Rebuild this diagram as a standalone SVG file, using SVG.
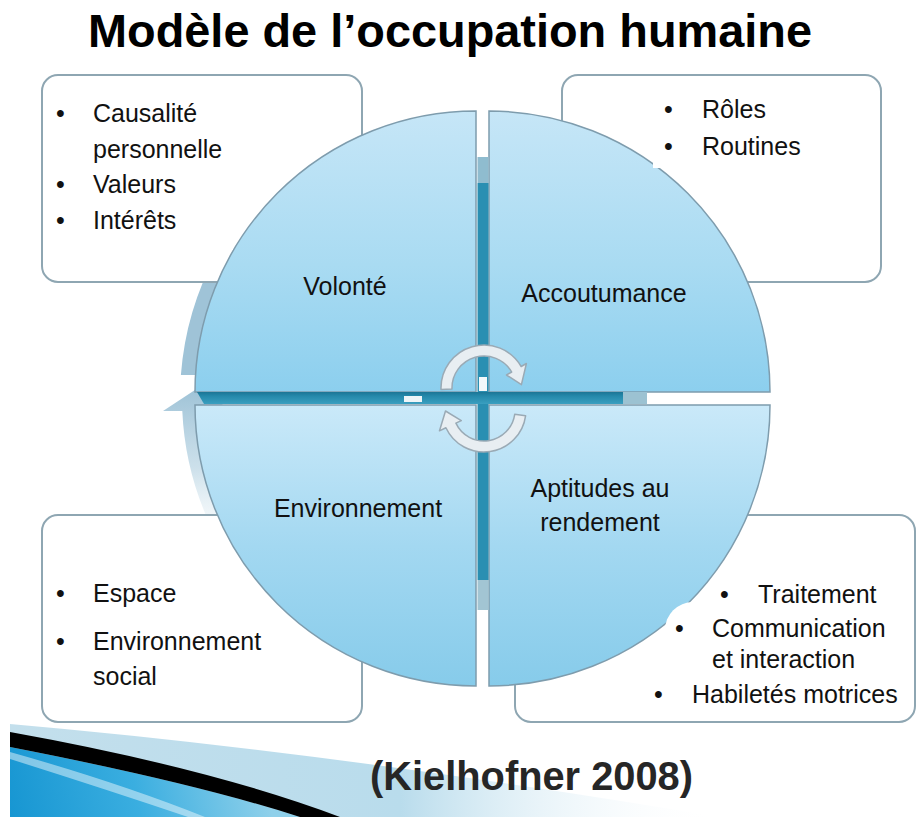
<svg xmlns="http://www.w3.org/2000/svg" width="919" height="817" viewBox="0 0 919 817">
  <style>
    .box { fill: #ffffff; stroke: #8ea6b2; stroke-width: 2; }
    .quad { stroke: #7e9cad; stroke-width: 1.5; }
    .lbl { font-family: "Liberation Sans", Arial, sans-serif; font-size: 25px; fill: #111111; }
    .mid { text-anchor: middle; }
    .turn { fill: #e8eef2; stroke: #9aaab5; stroke-width: 1.5; stroke-linejoin: round; }
    .ring { fill: #9fc3d7; }
  </style>
  <defs>
    <linearGradient id="gTop" x1="0" y1="110" x2="0" y2="392" gradientUnits="userSpaceOnUse">
      <stop offset="0" stop-color="#c6e6f7"/>
      <stop offset="0.55" stop-color="#a9dbf2"/>
      <stop offset="1" stop-color="#8ccfee"/>
    </linearGradient>
    <linearGradient id="gBot" x1="0" y1="405" x2="0" y2="688" gradientUnits="userSpaceOnUse">
      <stop offset="0" stop-color="#cae9f9"/>
      <stop offset="0.5" stop-color="#a3d8f1"/>
      <stop offset="1" stop-color="#86cbea"/>
    </linearGradient>
    <linearGradient id="gBarH" x1="0" y1="392" x2="0" y2="404" gradientUnits="userSpaceOnUse">
      <stop offset="0" stop-color="#1b7595"/>
      <stop offset="0.35" stop-color="#2589ab"/>
      <stop offset="1" stop-color="#3a9fc0"/>
    </linearGradient>
    <linearGradient id="gRingLow" x1="0" y1="390" x2="0" y2="520" gradientUnits="userSpaceOnUse">
      <stop offset="0" stop-color="#9fc3d7" stop-opacity="1"/>
      <stop offset="0.6" stop-color="#b7d3e2" stop-opacity="0.7"/>
      <stop offset="1" stop-color="#d6e6ee" stop-opacity="0.3"/>
    </linearGradient>
    <linearGradient id="gWash" x1="0" y1="0" x2="1" y2="0">
      <stop offset="0" stop-color="#c3dfec"/>
      <stop offset="0.55" stop-color="#b9dcec"/>
      <stop offset="1" stop-color="#ffffff" stop-opacity="0"/>
    </linearGradient>
    <linearGradient id="gBlue" x1="10" y1="817" x2="260" y2="760" gradientUnits="userSpaceOnUse">
      <stop offset="0" stop-color="#1796d2"/>
      <stop offset="0.5" stop-color="#3aaee0"/>
      <stop offset="1" stop-color="#8fd0ea"/>
    </linearGradient>
  </defs>

  <!-- title -->
  <text x="88" y="47" textLength="724" lengthAdjust="spacingAndGlyphs" style="font-family: 'Liberation Sans', Arial, sans-serif; font-size: 47px; font-weight: bold; fill: #000;">Modèle de l’occupation humaine</text>

  <!-- cycle ring arrow behind the disc -->
  <g id="cycle-ring">
    <path class="ring" d="M224.6,240 A302 302 0 0 0 180.9,375 L200.9,375 A282 282 0 0 1 248.4,240 Z"/>
    <path fill="url(#gRingLow)" d="M208,520 A300 300 0 0 1 182.3,411 L163,411 L198,388 L232,411 L200.3,411 A282 282 0 0 0 227.8,520 Z"/>
  </g>

  <!-- outer boxes -->
  <g id="box-volonte"><rect class="box" x="42" y="75" width="320" height="207" rx="16"/></g>
  <g id="box-accoutumance"><rect class="box" x="562" y="75" width="319" height="207" rx="16"/></g>
  <g id="box-environnement"><rect class="box" x="42" y="515" width="320" height="207" rx="16"/></g>
  <g id="box-aptitudes"><rect class="box" x="515" y="515" width="400" height="207" rx="16"/></g>

  <!-- quarter discs -->
  <g id="q-volonte"><path class="quad" fill="url(#gTop)" d="M476,392 L195,392 A281 281 0 0 1 476,111 Z"/></g>
  <g id="q-accoutumance"><path class="quad" fill="url(#gTop)" d="M489,392 L489,111 A281 281 0 0 1 770,392 Z"/></g>
  <g id="q-environnement"><path class="quad" fill="url(#gBot)" d="M476,405 L476,686 A281 281 0 0 1 195,405 Z"/></g>
  <g id="q-aptitudes"><path class="quad" fill="url(#gBot)" d="M489,405 L770,405 A281 281 0 0 1 489,686 Z"/></g>

  <!-- cross bars -->
  <g id="bars">
    <rect x="477.5" y="157" width="11" height="26" fill="#8fbccf"/>
    <rect x="477.5" y="183" width="11" height="397" fill="#2a8fb2"/>
    <rect x="477.5" y="580" width="11" height="30" fill="#a2c5d3"/>
    <path d="M197,392 L623,392 L623,404 L204,404 Z" fill="url(#gBarH)"/>
    <rect x="623" y="392" width="24" height="12" fill="#9cc2d2"/>
    <rect x="404" y="396" width="18" height="6" fill="#eef5f8"/>
    <rect x="479" y="377" width="8" height="14" fill="#f3f8fa"/>
  </g>

  <!-- turning arrows in the centre -->
  <g id="turn-arrows">
    <path class="turn" d="M441,389.5 A43 43 0 0 1 521.2,366.5 L526.4,363.5 L521.4,384.7 L506.5,375 L511.7,372 A32 32 0 0 0 452,389.1 Z"/>
    <path class="turn" d="M525.6,415.8 A42 42 0 0 1 445.9,427.7 L439.5,430.8 L445.5,411 L461.3,420.6 L455.9,423.1 A31 31 0 0 0 514.7,414.3 Z"/>
  </g>

  <!-- quadrant labels -->
  <g id="labels">
    <text class="lbl mid" x="345" y="295">Volonté</text>
    <text class="lbl mid" x="604" y="302">Accoutumance</text>
    <text class="lbl mid" x="358" y="517">Environnement</text>
    <text class="lbl mid" x="600" y="497">Aptitudes au</text>
    <text class="lbl mid" x="600" y="531">rendement</text>
  </g>

  <!-- bullet lists -->
  <g id="list-volonte">
    <rect x="55" y="90" width="178" height="160" fill="#ffffff"/>
    <text class="lbl" x="56" y="122">•</text>
    <text class="lbl" x="93" y="122">Causalité</text>
    <text class="lbl" x="93" y="158">personnelle</text>
    <text class="lbl" x="56" y="193">•</text>
    <text class="lbl" x="93" y="193">Valeurs</text>
    <text class="lbl" x="56" y="229">•</text>
    <text class="lbl" x="93" y="229">Intérêts</text>
  </g>
  <g id="list-accoutumance">
    <rect x="653" y="88" width="215" height="80" fill="#ffffff"/>
    <text class="lbl" x="664" y="118">•</text>
    <text class="lbl" x="702" y="118">Rôles</text>
    <text class="lbl" x="664" y="155">•</text>
    <text class="lbl" x="702" y="155">Routines</text>
  </g>
  <g id="list-environnement">
    <text class="lbl" x="56" y="602">•</text>
    <text class="lbl" x="93" y="602">Espace</text>
    <text class="lbl" x="56" y="650">•</text>
    <text class="lbl" x="93" y="650">Environnement</text>
    <text class="lbl" x="93" y="685">social</text>
  </g>
  <g id="list-aptitudes">
    <rect x="665" y="602" width="248" height="110" rx="28" fill="#ffffff"/>
    <text class="lbl" x="720" y="603">•</text>
    <text class="lbl" x="758" y="603">Traitement</text>
    <text class="lbl" x="675" y="637">•</text>
    <text class="lbl" x="712" y="637">Communication</text>
    <text class="lbl" x="712" y="668">et interaction</text>
    <text class="lbl" x="654" y="703">•</text>
    <text class="lbl" x="692" y="703">Habiletés motrices</text>
  </g>

  <!-- corner swoosh -->
  <g id="swoosh">
    <path d="M10,724 Q330,752 720,817 L10,817 Z" fill="url(#gWash)"/>
    <path d="M10,747 Q195,783 300,817 L10,817 Z" fill="url(#gBlue)"/>
    <path d="M10,752 Q120,783 205,817 L188,817 Q105,789 10,759 Z" fill="#ffffff" fill-opacity="0.45"/>
    <path d="M10,732 Q210,768 340,817 L300,817 Q195,783 10,747 Z" fill="#000000"/>
  </g>

  <!-- reference -->
  <text x="370" y="790" textLength="323" lengthAdjust="spacingAndGlyphs" style="font-family: 'Liberation Sans', Arial, sans-serif; font-size: 40px; font-weight: bold; fill: #262626;">(Kielhofner 2008)</text>
</svg>
